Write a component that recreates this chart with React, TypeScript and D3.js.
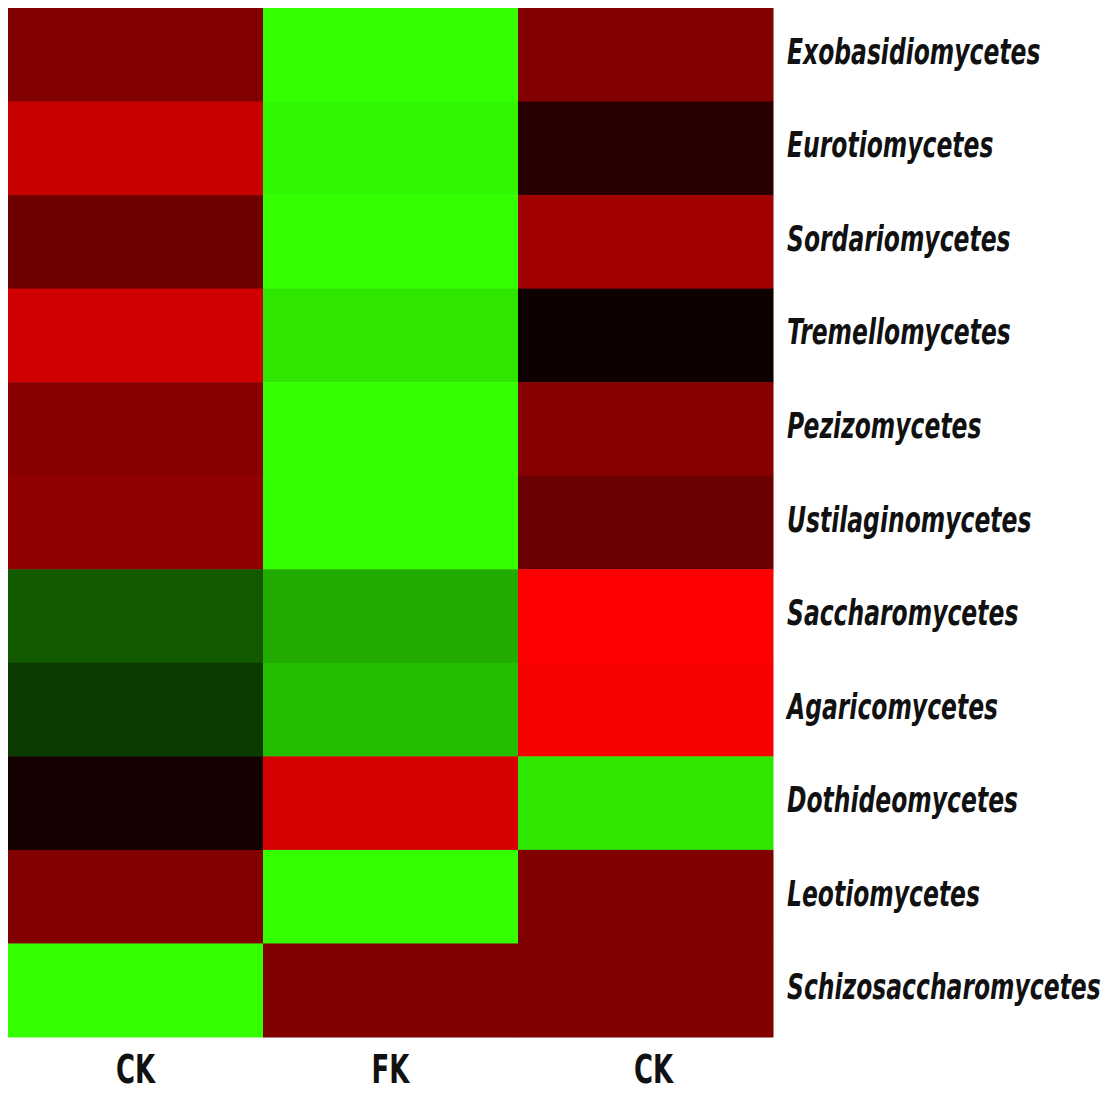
import React from 'react';
import * as d3 from 'd3';

// taxa, top to bottom
const taxa = [
  'Exobasidiomycetes',
  'Eurotiomycetes',
  'Sordariomycetes',
  'Tremellomycetes',
  'Pezizomycetes',
  'Ustilaginomycetes',
  'Saccharomycetes',
  'Agaricomycetes',
  'Dothideomycetes',
  'Leotiomycetes',
  'Schizosaccharomycetes',
];
const samples = ['CK', 'FK', 'CK'];

// scaled abundance per sample column (-1 green .. 0 black .. 1 red)
const ck1 = [0.51, 0.78, 0.43, 0.82, 0.54, 0.57, -0.35, -0.23, 0.08, 0.51, -1];
const fk = [-1, -0.97, -1, -0.9, -1, -1, -0.67, -0.75, 0.84, -1, 0.5];
const ck2 = [0.51, 0.16, 0.63, 0.06, 0.53, 0.42, 1, 0.97, -0.9, 0.5, 0.5];

const columns = [ck1, fk, ck2];

const left = 8, top = 8, right = 773, bottom = 1037;

const App = () => {
  const x = d3.scaleBand<number>().domain([0, 1, 2]).range([left, right]);
  const y = d3.scaleBand<string>().domain(taxa).range([top, bottom]);
  const color = d3.scaleLinear<string>()
    .domain([-1, 0, 1])
    .range(['#33ff00', '#000000', '#ff0000']);

  return (
    <svg width={1116} height={1097} style={{ display: 'block', margin: -8 }}>
      <rect x={0} y={0} width={1116} height={1097} fill="#fff" />
      <g>
        {columns.map((col, ci) =>
          col.map((v, ri) => (
            <rect key={ci + '-' + ri}
              x={x(ci)} y={y(taxa[ri])}
              width={x.bandwidth() + 0.5} height={y.bandwidth() + 0.5}
              fill={color(v)} />
          ))
        )}
      </g>
      <g fontFamily="'DejaVu Sans Condensed', sans-serif"
        fontWeight="bold" fontStyle="italic" fill="#111">
        {taxa.map(t => (
          <text key={t}
            transform={`translate(${right + 14},${(y(t) as number) + y.bandwidth() / 2 + 9}) scale(0.815,1.1)`}
            fontSize={32}>{t}</text>
        ))}
      </g>
      <g fontFamily="'DejaVu Sans Condensed', sans-serif"
        fontWeight="bold" fill="#111">
        {samples.map((s, i) => (
          <text key={i}
            transform={`translate(${(x(i) as number) + x.bandwidth() / 2 + (i === 2 ? 8 : 0)},1083) scale(0.9,1.2)`}
            textAnchor="middle" fontSize={32}>{s}</text>
        ))}
      </g>
    </svg>
  );
};

export default App;
